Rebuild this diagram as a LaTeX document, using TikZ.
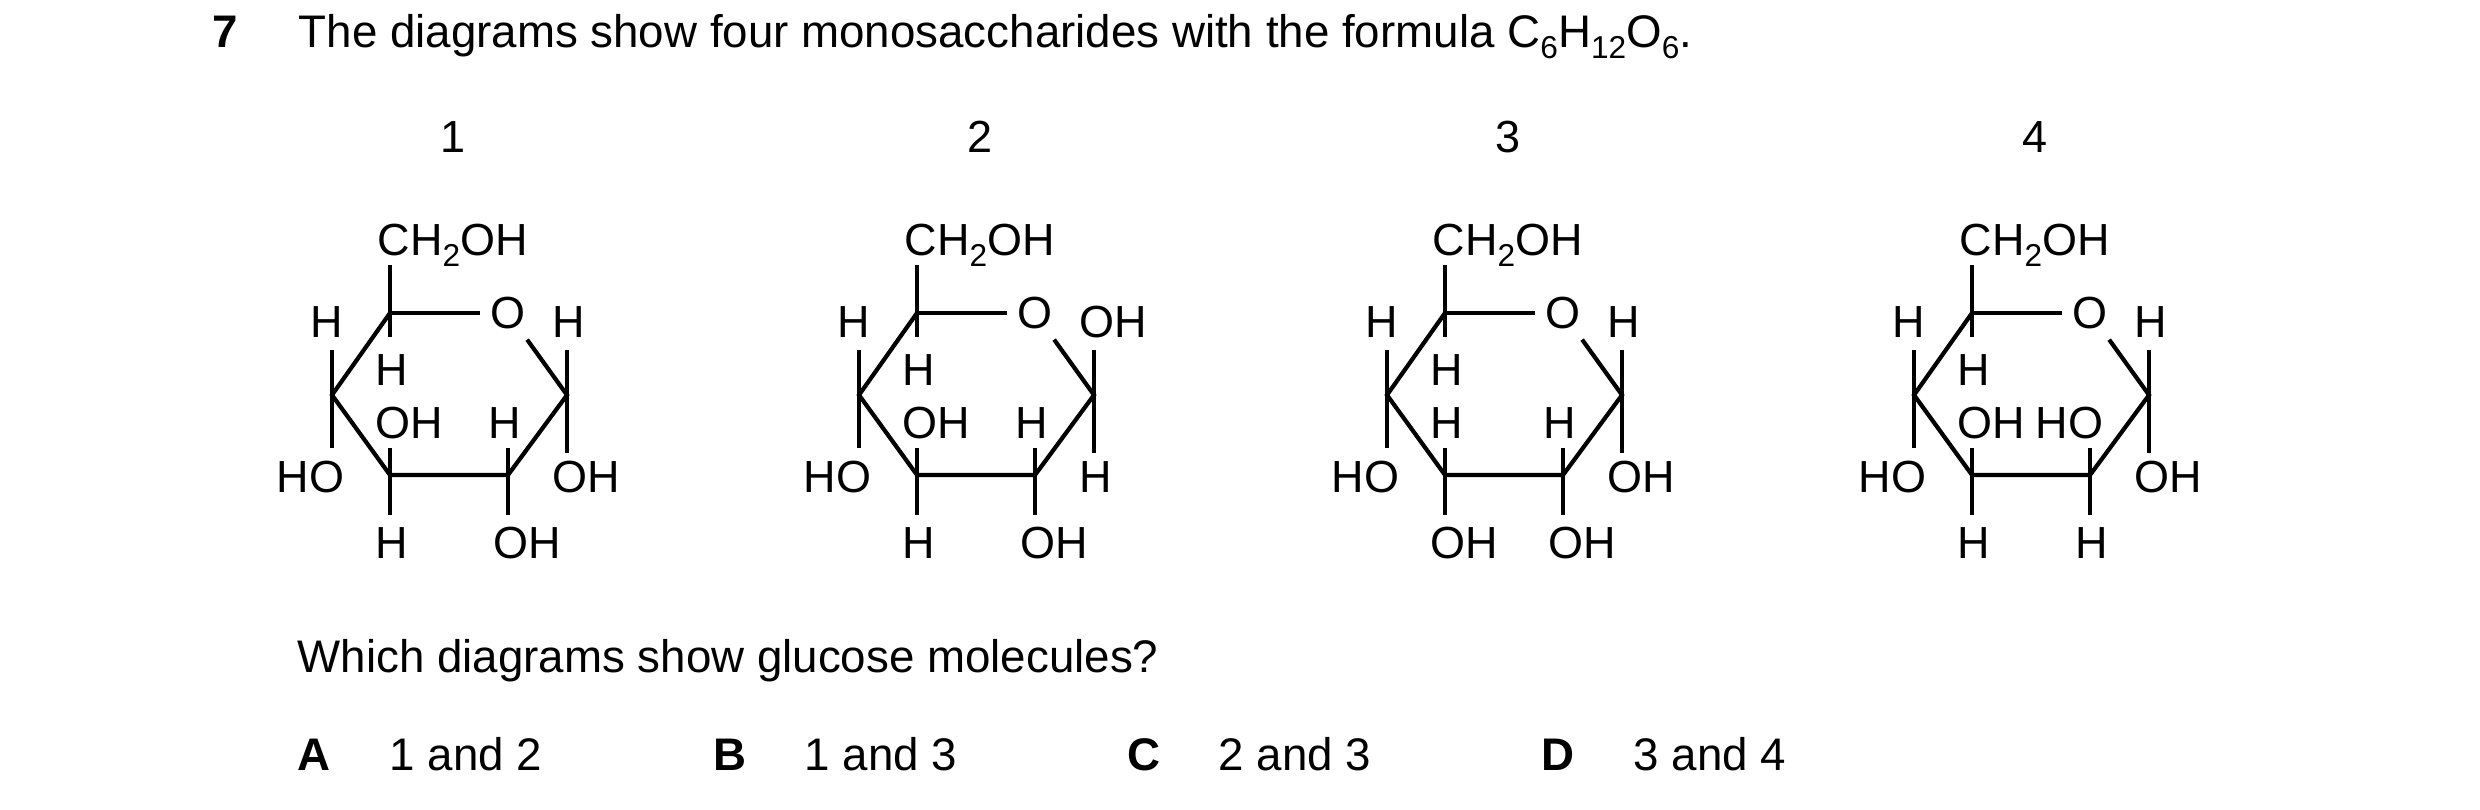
\documentclass[tikz,border=0pt]{standalone}
\usepackage{fontspec}
\setmainfont{Liberation Sans}
\newcommand\subs[1]{\raisebox{-0.45ex}{\fontsize{9}{9}\selectfont #1}}
\newcommand\molec[8]{%
\begin{scope}[shift={(#2,0)}]
  \coordinate (#1c5) at (390,313);
  \coordinate (#1c4) at (332,395);
  \coordinate (#1c3) at (390,475);
  \coordinate (#1c2) at (508,475);
  \coordinate (#1c1) at (567,395);
  \node[ringO] (#1o) at (508,313) {O};
  \draw[bond] (#1c5) -- (#1o.west);
  \draw[bond] (#1o) -- (#1c1) -- (#1c2) -- (#1c3) -- (#1c4) -- (#1c5);
  \coordinate (#1s6) at (390,265);
  \coordinate (#1s5) at (390,337);
  \draw[bond] (#1s6) -- (#1s5);
  \coordinate (#1s4a) at (332,350); \coordinate (#1s4b) at (332,448);
  \draw[bond] (#1s4a) -- (#1s4b);
  \coordinate (#1s1a) at (567,350); \coordinate (#1s1b) at (567,453);
  \draw[bond] (#1s1a) -- (#1s1b);
  \coordinate (#1s3a) at (390,448); \coordinate (#1s3b) at (390,515);
  \draw[bond] (#1s3a) -- (#1s3b);
  \coordinate (#1s2a) at (508,448); \coordinate (#1s2b) at (508,515);
  \draw[bond] (#1s2a) -- (#1s2b);
  \node[lab,anchor=base west] (#1ch) at (377,240) {CH\subs{2}OH};
  \node[lab,anchor=base east] (#1h4) at (344,322) {H};
  \node[lab,anchor=base east] (#1o4) at (345,477) {HO};
  \node[lab,anchor=base west] (#1h5) at (375,370) {H};
  \node[lab,anchor=base west] (#1t1) at (552,322) {#3};
  \node[lab,anchor=base west] (#1b1) at (552,477) {#4};
  \node[lab,anchor=base west] (#1t3) at (375,423) {#5};
  \node[lab,anchor=base west] (#1b3) at (375,543) {#6};
  \node[lab,anchor=base east] (#1t2) at (522,423) {#7};
  \node[lab,anchor=base west] (#1b2) at (493,543) {#8};
\end{scope}}
\begin{document}
\begin{tikzpicture}[x=0.1mm,y=-0.1mm,
  lab/.style={inner sep=0pt,font=\fontsize{12.8}{15}\selectfont,yshift=-1.55mm},
  txt/.style={inner sep=0pt,anchor=base west,font=\fontsize{13}{15}\selectfont,yshift=-1.55mm},
  bfx/.style={txt,font=\fontsize{13}{15}\selectfont\bfseries},
  ringO/.style={inner sep=1.0mm,font=\fontsize{12.8}{15}\selectfont},
  bond/.style={line width=0.42mm,line cap=butt}]
\useasboundingbox (0,0) rectangle (2480,809);
\node[bfx] (q) at (212,32) {7};
\node[txt] (title) at (298,32) {The diagrams show four monosaccharides with the formula C\subs{6}H\subs{12}O\subs{6}.};
\node[lab,anchor=base] (n1) at (453,137) {1};
\node[lab,anchor=base] (n2) at (980,137) {2};
\node[lab,anchor=base] (n3) at (1508,137) {3};
\node[lab,anchor=base] (n4) at (2035,137) {4};
\molec{a}{0}{H}{OH}{OH}{H}{H}{OH}
\molec{b}{527}{OH}{H}{OH}{H}{H}{OH}
\molec{c}{1055}{H}{OH}{H}{OH}{H}{OH}
\molec{d}{1582}{H}{OH}{OH}{H}{HO}{H}
\node[txt] (which) at (297,657) {Which diagrams show glucose molecules?};
\node[bfx] (la) at (297,755) {A};
\node[txt] (aa) at (389,755) {1 and 2};
\node[bfx] (lb) at (713,755) {B};
\node[txt] (ab) at (804,755) {1 and 3};
\node[bfx] (lc) at (1127,755) {C};
\node[txt] (ac) at (1218,755) {2 and 3};
\node[bfx] (ld) at (1541,755) {D};
\node[txt] (ad) at (1633,755) {3 and 4};
\end{tikzpicture}
\end{document}
